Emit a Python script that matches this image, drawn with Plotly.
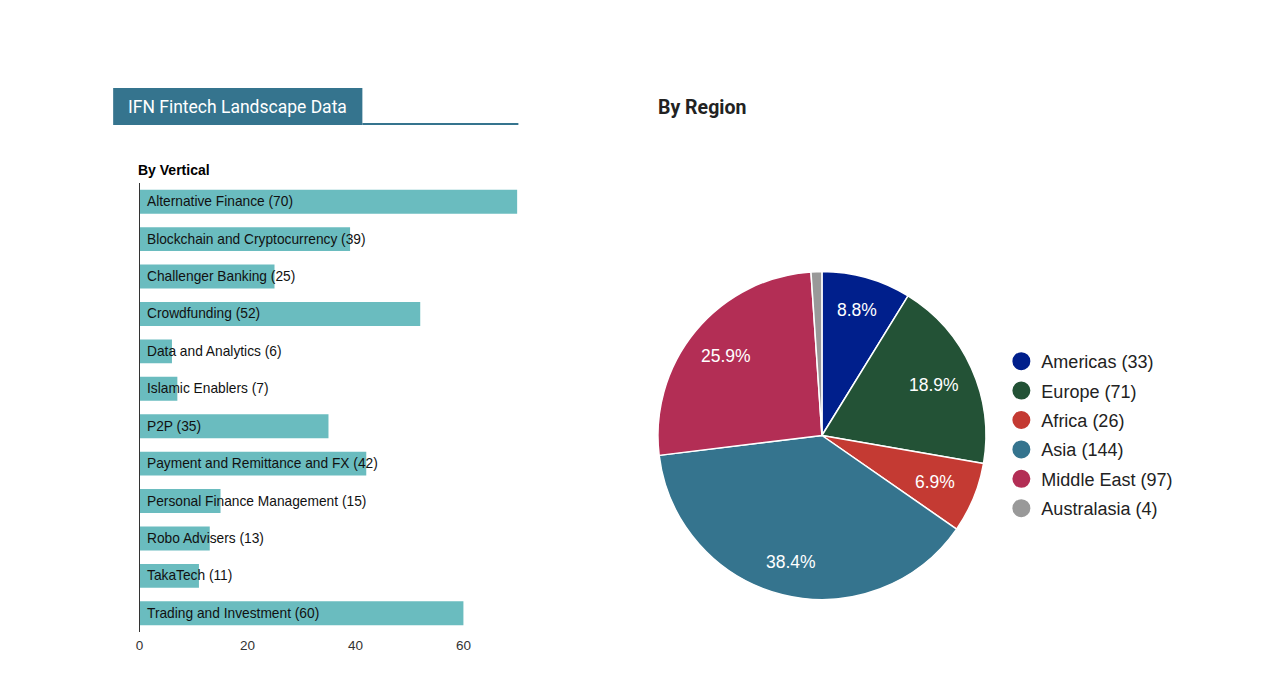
# IFN fintech landscape: verticals (bars) and regions (pie)
import math
import plotly.graph_objects as go

W, H = 1278, 696

verticals = ["Alternative Finance", "Blockchain and Cryptocurrency", "Challenger Banking",
             "Crowdfunding", "Data and Analytics", "Islamic Enablers", "P2P",
             "Payment and Remittance and FX", "Personal Finance Management",
             "Robo Advisers", "TakaTech", "Trading and Investment"]
vertical_counts = [70, 39, 25, 52, 6, 7, 35, 42, 15, 13, 11, 60]

regions = ["Americas", "Europe", "Africa", "Asia", "Middle East", "Australasia"]
region_counts = [33, 71, 26, 144, 97, 4]
region_colors = ["#001f8c", "#235236", "#c43a33", "#35748e", "#b32e55", "#999999"]

BAR = "#6abcbf"
HEAD = "#35748e"
SANS = "Liberation Sans"
PIE_X, PIE_Y, PIE_R = 823, 435.5, 164.5


def px(x):
    return (x - 2.5) / W  # the page sits a little right of the requested position


def py(y):
    return 1 - y / H


fig = go.Figure()
fig.add_bar(x=vertical_counts, y=verticals, orientation="h", marker=dict(color=BAR, line=dict(width=0)),
            showlegend=False, hoverinfo="x+y")
fig.add_pie(labels=regions, values=region_counts, sort=False, direction="clockwise", rotation=0,
            marker=dict(colors=region_colors, line=dict(color="white", width=1.5)),
            textinfo="none", showlegend=False,
            domain=dict(x=[px(PIE_X - PIE_R), px(PIE_X + PIE_R)], y=[py(PIE_Y + PIE_R), py(PIE_Y - PIE_R)]))

# pie legend keys are squares, so the circles come from empty marker traces
for name, n, col in zip(regions, region_counts, region_colors):
    fig.add_scatter(x=[None], y=[None], mode="markers", name=f"{name} ({n})", legendgroup=name,
                    marker=dict(color=col, size=16, symbol="circle", line=dict(color=col, width=2)))

# labels sit on the axis and spill over the end of short bars
for name, n in zip(verticals, vertical_counts):
    fig.add_annotation(x=0, y=name, xref="x", yref="y", text=f"{name} ({n})", showarrow=False,
                       xanchor="left", xshift=5, font=dict(family=SANS, size=13.75, color="#111111"))

# plotly centres pie text in the slice; the original keeps it near the rim, and skips the tiny slice
total = sum(region_counts)
done = 0
for n in region_counts:
    mid = 2 * math.pi * (done + n / 2) / total
    done += n
    if n / total < 0.02:
        continue
    r = PIE_R * 0.81 - 11 * abs(math.sin(mid))
    fig.add_annotation(x=px(PIE_X + r * math.sin(mid)), y=py(PIE_Y - r * math.cos(mid)), xref="paper", yref="paper",
                       text=f"{100 * n / total:.1f}%", showarrow=False, xanchor="center", yanchor="middle",
                       font=dict(family=SANS, size=17.5, color="white"))

fig.add_annotation(x=px(125), y=py(107), xref="paper", yref="paper", text="IFN Fintech Landscape Data",
                   showarrow=False, xanchor="left", yanchor="middle", font=dict(family="Roboto", size=17.5, color="white"))
fig.add_annotation(x=px(135), y=py(170), xref="paper", yref="paper", text="<b>By Vertical</b>",
                   showarrow=False, xanchor="left", yanchor="middle", font=dict(family=SANS, size=14, color="black"))
fig.add_annotation(x=px(656.5), y=py(107), xref="paper", yref="paper", text="<b>By Region</b>",
                   showarrow=False, xanchor="left", yanchor="middle", font=dict(family="Roboto", size=19.5, color="#222222"))

fig.add_shape(type="rect", xref="paper", yref="paper", x0=px(112), x1=px(362), y0=py(125), y1=py(88),
              fillcolor=HEAD, line=dict(width=0))
fig.add_shape(type="line", xref="paper", yref="paper", x0=px(362), x1=px(518.5), y0=py(124), y1=py(124),
              line=dict(color=HEAD, width=2))

fig.update_layout(
    width=W, height=H, margin=dict(l=0, r=0, t=0, b=0), paper_bgcolor="white", plot_bgcolor="white",
    bargap=0.36,
    xaxis=dict(domain=[px(138.5), px(517.5)], range=[0, 70], tickvals=[0, 20, 40, 60], showgrid=False,
               zeroline=False, showline=False, ticks="", ticklabelstandoff=3,
               tickfont=dict(family=SANS, size=13.5, color="#333333")),
    yaxis=dict(domain=[py(632), py(183)], autorange="reversed", showticklabels=False, ticks="",
               showgrid=False, zeroline=False, showline=True, linecolor="#333333", linewidth=1,
               categoryorder="array", categoryarray=verticals),
    legend=dict(x=px(1003), y=py(343), xanchor="left", yanchor="top", tracegroupgap=3, itemclick=False,
                font=dict(family=SANS, size=18, color="#222222"), bgcolor="rgba(0,0,0,0)"),
)

# default body margin would push the fixed-size plot off position
fig.write_html("out.html", post_script="document.body.style.margin='0';", config=dict(displayModeBar=False))
